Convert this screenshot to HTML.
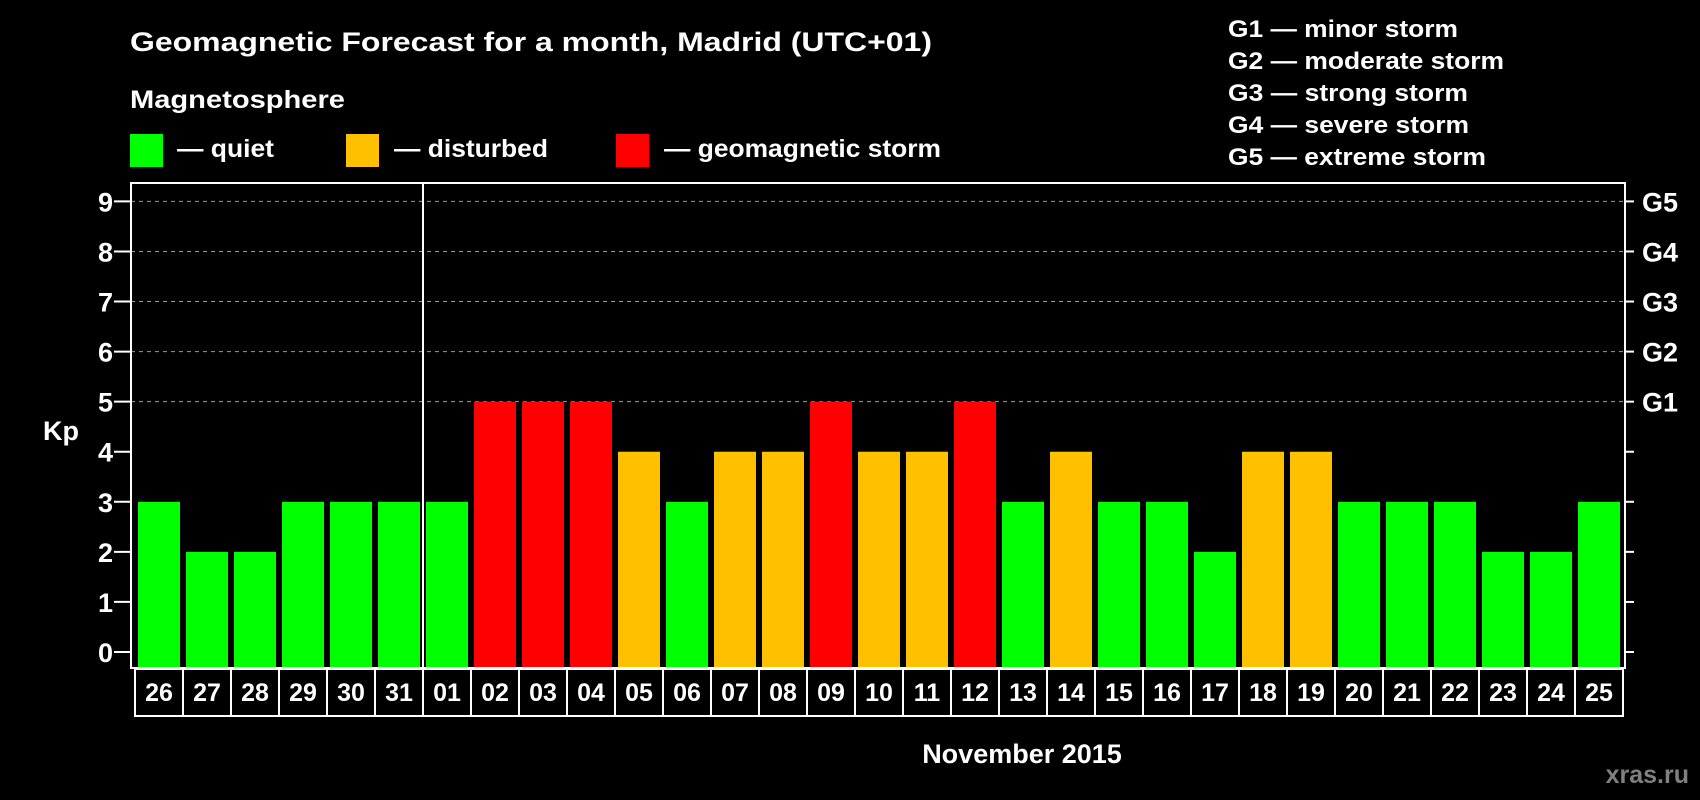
<!DOCTYPE html>
<html><head><meta charset="utf-8"><style>
html,body{margin:0;padding:0;background:#000;}
svg{display:block;font-family:"Liberation Sans",Arial,sans-serif;font-weight:bold;}
</style></head><body>
<svg id="chart" width="1700" height="800" viewBox="0 0 1700 800">
<rect x="0" y="0" width="1700" height="800" fill="#000"/>
<text x="130" y="51" font-size="27" fill="#fff" textLength="802" lengthAdjust="spacingAndGlyphs">Geomagnetic Forecast for a month, Madrid (UTC+01)</text>
<text x="130" y="108" font-size="25" fill="#fff" textLength="215" lengthAdjust="spacingAndGlyphs">Magnetosphere</text>
<g>
<rect x="130" y="134" width="33" height="33" fill="#00ff00"/>
<text x="177" y="157" font-size="25" fill="#fff" textLength="97" lengthAdjust="spacingAndGlyphs">— quiet</text>
<rect x="346" y="134" width="33" height="33" fill="#ffc000"/>
<text x="394" y="157" font-size="25" fill="#fff" textLength="154" lengthAdjust="spacingAndGlyphs">— disturbed</text>
<rect x="616" y="134" width="33" height="33" fill="#ff0000"/>
<text x="664" y="157" font-size="25" fill="#fff" textLength="277" lengthAdjust="spacingAndGlyphs">— geomagnetic storm</text>
</g>
<g font-size="24" fill="#fff">
<text x="1228" y="37" textLength="230" lengthAdjust="spacingAndGlyphs">G1 — minor storm</text>
<text x="1228" y="69" textLength="276" lengthAdjust="spacingAndGlyphs">G2 — moderate storm</text>
<text x="1228" y="101" textLength="240" lengthAdjust="spacingAndGlyphs">G3 — strong storm</text>
<text x="1228" y="133" textLength="241" lengthAdjust="spacingAndGlyphs">G4 — severe storm</text>
<text x="1228" y="165" textLength="258" lengthAdjust="spacingAndGlyphs">G5 — extreme storm</text>
</g>
<text x="43" y="440" font-size="27" fill="#fff">Kp</text>
<text x="1022" y="763" font-size="27" fill="#fff" text-anchor="middle">November 2015</text>
<text x="1689" y="783" font-size="25" fill="#808080" text-anchor="end">xras.ru</text>
<g id="plot"></g>
</svg>
<script>
const days = ["26","27","28","29","30","31","01","02","03","04","05","06","07","08","09","10","11","12","13","14","15","16","17","18","19","20","21","22","23","24","25"];
const kpValues = [3,2,2,3,3,3,3,5,5,5,4,3,4,4,5,4,4,5,3,4,3,3,2,4,4,3,3,3,2,2,3];
const yTicks = [0,1,2,3,4,5,6,7,8,9];
const gLevels = ["G1","G2","G3","G4","G5"];
const gValues = [5,6,7,8,9];

const NS = "http://www.w3.org/2000/svg";
const plot = document.getElementById("plot");
const X0 = 131, X1 = 1625, Y0 = 183, YB = 668;
const Y_ZERO = 652, UNIT = (652 - 201.4) / 9;
const PITCH = 48, FIRST = 138, BW = 42;
function y(v){ return Y_ZERO - v * UNIT; }
function xBar(i){ return FIRST + i * PITCH; }
function mk(tag, attrs){ const e = document.createElementNS(NS, tag); for (const k in attrs) e.setAttribute(k, attrs[k]); plot.appendChild(e); return e; }
function color(v){ return v >= 5 ? "#ff0000" : (v >= 4 ? "#ffc000" : "#00ff00"); }

yTicks.forEach(t => {
  if (t >= 5) {
    const g = mk("line", {x1: X0, x2: X1, y1: y(t), y2: y(t), stroke: "#9a9a9a", "stroke-width": 1, "stroke-dasharray": "4,4"});
    
    
  }
  const tk = mk("line", {x1: 114, x2: X0, y1: y(t), y2: y(t), stroke: "#fff", "stroke-width": 2});
  
  
  const rt = mk("line", {x1: X1, x2: 1634, y1: y(t), y2: y(t), stroke: "#fff", "stroke-width": 2});
  
  
  const lb = mk("text", {x: 113, y: y(t) + 10, "font-size": 27, fill: "#fff", "text-anchor": "end"});
  lb.textContent = t;
  
  
});
gLevels.forEach((g, i) => {
  const lb = mk("text", {x: 1642, y: y(gValues[i]) + 10, "font-size": 27, fill: "#fff"});
  lb.textContent = g;
  
  
});
kpValues.forEach((v, i) => {
  const b = mk("rect", {x: xBar(i), y: y(v), width: BW, height: YB - y(v), fill: color(v)});
  
  
});
const fr = mk("rect", {x: X0, y: Y0, width: X1 - X0, height: YB - Y0, fill: "none", stroke: "#fff", "stroke-width": 2});


const sep = mk("line", {x1: 423, x2: 423, y1: Y0, y2: YB, stroke: "#fff", "stroke-width": 2});


const CX0 = 135, CY0 = 669, CY1 = 716;
days.forEach((d, i) => {
  const c = mk("rect", {x: CX0 + i * PITCH, y: CY0, width: PITCH, height: CY1 - CY0, fill: "none", stroke: "#fff", "stroke-width": 2});
  
  
  const t = mk("text", {x: CX0 + i * PITCH + PITCH / 2, y: 701, "font-size": 25, fill: "#fff", "text-anchor": "middle"});
  t.textContent = d;
  
  
});
</script>
</body></html>
